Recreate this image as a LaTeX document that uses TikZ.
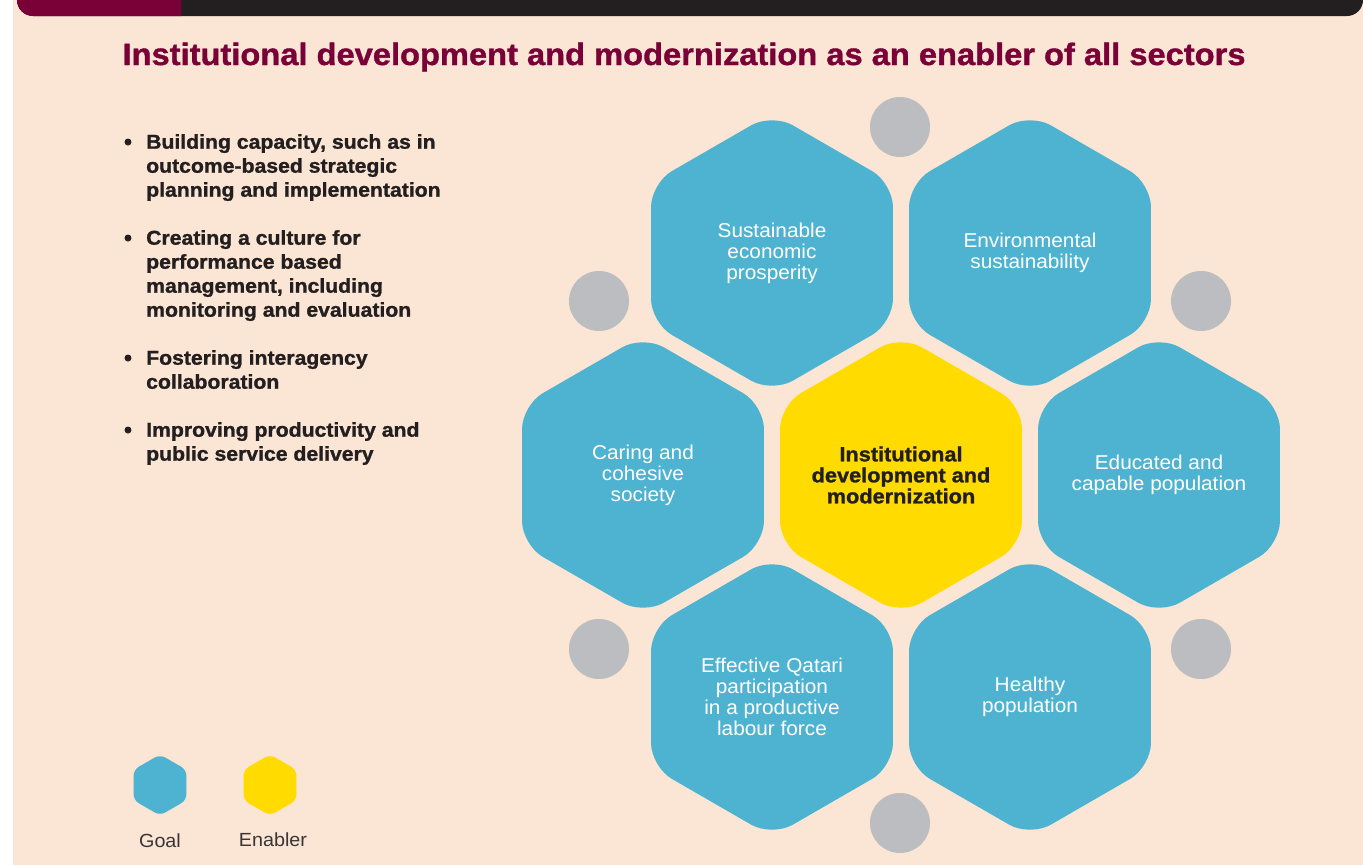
\documentclass[tikz,border=0pt]{standalone}
\usepackage{fontspec}
\setmainfont{Liberation Sans}
\newfontfamily\heavyfont{Liberation Sans}[UprightFont=* Bold, FakeBold=1.2, FakeStretch=1.06]
\newfontfamily\bodyfont{Liberation Sans}[FakeStretch=1.04]
\usepackage{xcolor}
\usetikzlibrary{shapes.geometric, positioning}

\definecolor{peach}{HTML}{FBE5D4}
\definecolor{barmaroon}{HTML}{7A0038}
\definecolor{bardark}{HTML}{231F20}
\definecolor{goalblue}{HTML}{4EB3D0}
\definecolor{enabyellow}{HTML}{FFDB00}
\definecolor{dotgray}{HTML}{BCBDC0}
\definecolor{inkdark}{HTML}{231F20}

\begin{document}
\begin{tikzpicture}[
  x=1pt, y=-1pt,
  hexbase/.style={regular polygon, regular polygon sides=6, shape border rotate=30,
    minimum size=279.4pt, inner sep=0pt, outer sep=0pt, rounded corners=24pt},
  goal/.style={hexbase, fill=goalblue},
  enabler/.style={hexbase, fill=enabyellow},
  goaltext/.style={align=center, inner sep=0pt, text=white, font=\bodyfont\fontsize{20}{21}\selectfont},
  enabtext/.style={align=center, inner sep=0pt, text=inkdark, font=\heavyfont\fontsize{20.5}{21}\selectfont},
  keyhex/.style={regular polygon, regular polygon sides=6, shape border rotate=30,
    minimum size=61pt, inner sep=0pt, rounded corners=6pt},
  gap/.style={circle, fill=dotgray, minimum size=60pt, inner sep=0pt},
  point/.style={anchor=north west, inner sep=0pt, align=left, text=inkdark,
    font=\heavyfont\fontsize{20}{24}\selectfont},
  dot/.style={circle, fill=inkdark, minimum size=7pt, inner sep=0pt},
  keylabel/.style={inner sep=0pt, text=inkdark!90, font=\bodyfont\fontsize{19}{21}\selectfont}
]
  % page and top bar
  \useasboundingbox (0,0) rectangle (1363,865);
  \fill[peach] (13,0) rectangle (1363,865);
  \fill[bardark, rounded corners=16pt] (17,-30) -- (17,16) -- (1363,16) -- (1363,-30) -- cycle;
  \fill[barmaroon] (181,-30) -- (181,16) [rounded corners=16pt] -- (17,16) -- (17,-30) [sharp corners] -- cycle;

  % title
  \node[anchor=base, inner sep=0pt, text=barmaroon, font=\heavyfont\fontsize{30.8}{34}\selectfont]
    (title) at (684,65) {Institutional development and modernization as an enabler of all sectors};

  % bullet points
  \node[dot] (d1) at (128,142) {};
  \node[point] (p1) at (146,134) {Building capacity, such as in\\outcome-based strategic\\planning and implementation};
  \node[dot] (d2) at (128,238) {};
  \node[point] (p2) at (146,230) {Creating a culture for\\performance based\\management, including\\monitoring and evaluation};
  \node[dot] (d3) at (128,358) {};
  \node[point] (p3) at (146,350) {Fostering interagency\\collaboration};
  \node[dot] (d4) at (128,430) {};
  \node[point] (p4) at (146,422) {Improving productivity and\\public service delivery};

  % grey gaps
  \node[gap] (g1) at (900,127) {};
  \node[gap] (g2) at (599,301) {};
  \node[gap] (g3) at (1201,301) {};
  \node[gap] (g4) at (599,649) {};
  \node[gap] (g5) at (1201,649) {};
  \node[gap] (g6) at (900,823) {};

  % hexagons
  \node[enabler, label={[enabtext]center:Institutional\\development and\\modernization}] (inst) at (901,475) {};
  \node[goal, label={[goaltext]center:Sustainable\\economic\\prosperity}] (sus) at (772,253) {};
  \node[goal, label={[goaltext]center:Environmental\\sustainability}] (env) at (1030,253) {};
  \node[goal, label={[goaltext]center:Caring and\\cohesive\\society}] (car) at (643,475) {};
  \node[goal, label={[goaltext]center:Educated and\\capable population}] (edu) at (1159,475) {};
  \node[goal, label={[goaltext]center:Effective Qatari\\participation\\in a productive\\labour force}] (eff) at (772,697) {};
  \node[goal, label={[goaltext]center:Healthy\\population}] (hea) at (1030,697) {};

  % legend
  \node[keyhex, fill=goalblue] (kgoal) at (160,785) {};
  \node[keyhex, fill=enabyellow] (kenab) at (270,785) {};
  \node[keylabel] (lgoal) at (160,841) {Goal};
  \node[keylabel] (lenab) at (273,840) {Enabler};
\end{tikzpicture}
\end{document}
